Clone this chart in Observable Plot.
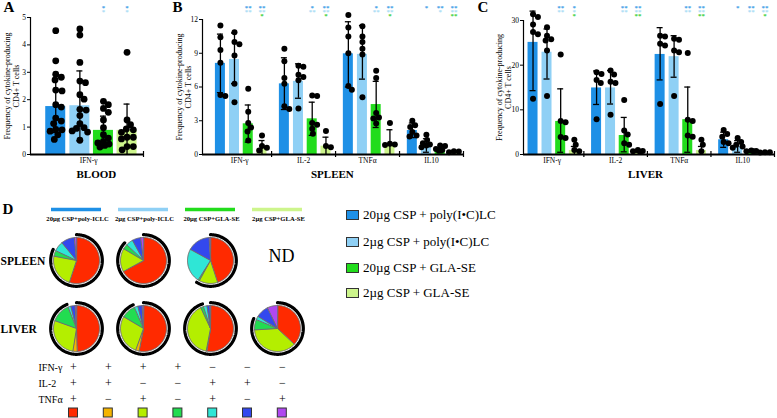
<!DOCTYPE html>
<html><head><meta charset="utf-8">
<script src="https://cdn.jsdelivr.net/npm/d3@7"></script>
<script src="https://cdn.jsdelivr.net/npm/@observablehq/plot@0.6"></script>
<style>
body{margin:0;background:#fff;}
#fig{position:relative;width:777px;height:418px;overflow:hidden;font-family:"Liberation Serif",serif;background:#fff;}
#fig svg{position:absolute;overflow:visible;}
.li{position:absolute;left:346px;white-space:nowrap;display:flex;align-items:center;font-size:13px;color:#000;}
.sw{width:13px;height:10px;border:1px solid #333;margin-right:4px;box-sizing:border-box;}
</style></head><body><div id="fig"></div>
<script>
// ---------- data ----------
const groups = ["20µg CSP + poly(I•C)LC","2µg CSP + poly(I•C)LC","20µg CSP + GLA-SE","2µg CSP + GLA-SE"];
const groupShort = ["20µg CSP+poly-ICLC","2µg CSP+poly-ICLC","20µg CSP+GLA-SE","2µg CSP+GLA-SE"];
const groupColors = ["#1e90e6","#8fd0f5","#22dc1c","#cdf58c"];
const cytokinesBlood = ["IFN-γ"];
const cytokinesTissue = ["IFN-γ","IL-2","TNFα","IL10"];
const yTicksBlood = [0,1,2,3,4,5];
const yTicksSpleen = [0,3,6,9,12];
const yTicksLiver = [0,10,20,30];
const yLabel = "Frequency of cytokine-producing\nCD4+ T cells";
const starColors = ["#3b9de6","#a8dcf5","#3ccf3c"];

// [cytokine][group]
const bloodMean = [[1.75,1.78,0.88,0.88]];
const bloodLo = [[0.8,0.5,0.35,0]];
const bloodHi = [[2.75,3.05,1.4,1.84]];
const bloodPoints = [[
  [4.52,3.42,2.93,2.82,2.72,2.35,2.32,1.82,1.73,1.33,1.22,1.13,0.92,0.9,0.85,0.72,0.55],
  [4.58,4.36,3.36,2.68,2.62,2.18,2.02,1.65,1.62,1.42,1.13,0.98,0.95,0.86,0.82,0.52],
  [1.94,1.82,1.68,1.54,1.26,0.98,0.72,0.6,0.48,0.42,0.38,0.33,0.27],
  [3.73,1.26,1.09,0.93,0.9,0.81,0.63,0.63,0.57,0.29,0.29,0.17]
]];
const bloodStars = [[0,2,"*","*",""],[0,3,"*","*",""]];

const spleenMean = [[8.1,8.45,2.73,0.5],[6.28,6.5,3.17,0.74],[8.95,8.9,4.44,1.0],[2.13,0.8,0.36,0.2]];
const spleenLo = [[5.5,6.3,1.1,0],[4.0,5.0,1.7,0],[6.0,6.7,2.4,0],[1.5,0.2,0.15,0.15]];
const spleenHi = [[10.7,10.8,4.4,1.24],[8.6,8.06,4.65,1.54],[11.8,11.47,6.5,2.2],[2.8,1.4,0.55,0.25]];
const spleenPoints = [
  [[11.47,10.43,9.3,8.15,5.3,5.19],[10.87,10.0,9.8,8.8,6.3,4.65],[5.84,3.8,2.8,2.4,2.05,1.24],[1.7,0.75,0.6,0.35]],
  [[9.4,8.3,6.8,6.3,4.3,4.05],[7.9,7.8,7.1,6.9,6.6,4.1],[5.25,5.2,2.8,2.65,2.3,1.85],[2.1,0.75,0.65]],
  [[12.4,11.3,10.5,9.0,6.1,5.75],[11.4,10.5,10.0,9.4,8.9,5.1],[7.45,6.8,3.7,3.3,3.2,2.75],[2.8,0.95,0.9,0.85]],
  [[3.0,2.6,2.45,2.0,1.7,1.6],[1.75,1.3,1.0,0.9,0.8,0.65],[0.8,0.75,0.5,0.4,0.35],[0.3,0.27,0.2]]
];
const spleenStars = [[0,2,"**","**",""],[0,3,"**","**","*"],[1,2,"*","**",""],[1,3,"**","**","*"],[2,2,"*","**",""],[2,3,"**","**","*"],[3,1,"*","",""],[3,2,"**","*",""],[3,3,"**","**","**"]];

const liverMean = [[25.1,22.9,7.4,0.9],[14.9,14.9,4.25,0.75],[22.4,21.9,7.8,0.9],[3.3,1.8,0.75,0.5]];
const liverLo = [[14.3,16.9,0.5,0],[11.2,11.3,0.6,0.5],[16.7,17.3,0.5,0],[1.6,0.5,0.5,0.4]];
const liverHi = [[32.1,28.1,14.7,1.8],[18.7,18.8,8.3,1.0],[28.4,26.6,15.1,1.8],[5.0,3.1,1.0,0.6]];
const liverPoints = [
  [[31.4,30.8,29.1,27.4,26.9,12.5],[28.5,26.6,25.8,25.5,23.3,13.1],[22.4,7.5,7.2,3.9,3.7],[3.3,2.2,1.0,0.7]],
  [[18.4,18.0,16.7,16.0,7.9],[18.8,17.9,16.3,16.0,8.9],[12.2,5.4,4.5,2.5,2.2],[1.0,0.8,0.7,0.6]],
  [[26.6,26.4,24.8,24.4,11.3],[25.9,25.7,23.3,22.9,13.1],[22.7,7.8,7.5,4.25,4.0],[3.3,2.2,0.7]],
  [[5.5,4.6,4.0,2.8,2.5],[3.7,2.8,2.2,1.8,1.5],[0.9,0.8,0.75,0.7],[0.5,0.5,0.45]]
];
const liverStars = [[0,2,"**","**",""],[0,3,"*","*","*"],[1,2,"**","**",""],[1,3,"**","**","**"],[2,2,"**","**",""],[2,3,"**","**","**"],[3,1,"*","",""],[3,2,"**","**",""],[3,3,"**","**","*"]];

// Panel D: polyfunctional profiles (% of responding cells)
const cytoRows = ["IFN-γ","IL-2","TNFα"];
const signIFN = ["+","+","+","+","−","−","−"];
const signIL2 = ["+","+","−","−","+","+","−"];
const signTNF = ["+","−","+","−","+","−","+"];
const catColors = ["#ff2a00","#f5b400","#b4ee00","#22dc50","#2fe6d6","#3348ee","#b048f0"];
const tissues = ["SPLEEN","LIVER"];
const spleenPie = [[55,0,23,4,7,9.5,1.5],[67,0,16.5,3.5,5,6,2],[45,0,13,1,24,16,1],null];
const liverPie = [[49.5,3,28,13.5,2,3,1],[53,2.5,28,10,2.5,3,1],[52.5,0.5,40,2,2.5,2,0.5],[37,0,37,7.3,2.5,9,7.2]];
const notDone = "ND";

// ---------- helpers ----------
const fig = document.getElementById("fig");
const inCluster = [0.2, 0.42, 0.635, 0.85];

function swarm(vals, pxY, r, maxPx) {
  const n = vals.length, out = new Array(n).fill(0);
  const order = d3.range(n).sort((a,b)=>vals[b]-vals[a]);
  const placed = [];
  const cands = [0];
  for (let k=1;k<=20;k++){ const s=k*0.7; if (s<=maxPx) cands.push(s,-s); }
  for (const i of order) {
    const y = vals[i]*pxY;
    let best = 0, bestD = -1;
    for (const c of cands) {
      let dmin = Infinity;
      for (const p of placed) dmin = Math.min(dmin, Math.hypot(p[0]-c, p[1]-y));
      if (dmin >= 1.7*r) { best = c; break; }
      if (dmin > bestD) { bestD = dmin; best = c; }
    }
    placed.push([best, y]); out[i] = best;
  }
  return out;
}

function barPanel(o) {
  const plotH = o.height - o.mt - o.mb;
  const plotW = o.width - o.ml - o.mr;
  const nC = o.cyto.length;
  const pxX = plotW / (nC - o.xStart);
  const pxY = plotH / o.yMax;
  const bars = [], pts = [];
  o.mean.forEach((row, c) => row.forEach((m, g) => {
    const x = c + inCluster[g];
    bars.push({c, g, x, mean: m, lo: o.lo[c][g], hi: o.hi[c][g]});
    const vals = o.pts[c][g];
    const offs = swarm(vals, pxY, o.r, o.maxOff);
    vals.forEach((v, i) => pts.push({x: x + offs[i]/pxX, v}));
  }));
  const bw = o.barW / pxX, cw = 3 / pxX;
  const starRows = [2.5, 6.5, 10.8];
  const marks = [
    Plot.rect(bars, {x1: d=>d.x-bw/2, x2: d=>d.x+bw/2, y1: 0, y2: "mean", fill: d=>groupColors[d.g]}),
    Plot.ruleX(bars, {x: "x", y1: "lo", y2: "hi", stroke: "black", strokeWidth: 1.3}),
    Plot.ruleY(bars, {y: "hi", x1: d=>d.x-cw, x2: d=>d.x+cw, stroke: "black", strokeWidth: 1.3}),
    Plot.ruleY(bars.filter(d=>d.lo>0), {y: "lo", x1: d=>d.x-cw, x2: d=>d.x+cw, stroke: "black", strokeWidth: 1.3}),
    Plot.dot(pts, {x: "x", y: "v", r: o.r, fill: "black"}),
    Plot.ruleY([0], {stroke: "black", strokeWidth: 1.8}),
    Plot.ruleX([o.xStart], {stroke: "black", strokeWidth: 1.2}),
    Plot.ruleX(d3.range(1, nC+1), {x: d=>d, stroke: "black", strokeWidth: 1.2, insetTop: plotH-3, insetBottom: -3}),
    Plot.text(o.cyto, {x: (d,i)=>i+0.5, frameAnchor: "bottom", lineAnchor: "top", dy: 3, text: d=>d, fontSize: 7.5}),
    Plot.text([o.title], {x: ()=>o.titleX, frameAnchor: "bottom", dy: 23, text: d=>d, fontSize: 11, fontWeight: "bold"}),
    Plot.text([yLabel], {frameAnchor: "left", textAnchor: "middle", lineAnchor: "middle", dx: o.labelDx, rotate: -90, text: d=>d, fontSize: 8, lineHeight: 1.2}),
    Plot.text([o.letter], {frameAnchor: "top-left", textAnchor: "start", lineAnchor: "top", dx: o.letterX - o.ml, dy: 1 - o.mt, text: d=>d, fontSize: 15, fontWeight: "bold"})
  ];
  for (let k=0;k<3;k++) {
    marks.push(Plot.text(o.stars.filter(s=>s[2+k]), {x: s=>s[0]+inCluster[s[1]], frameAnchor: "top", text: s=>s[2+k],
      dy: starRows[k] - o.mt + 1.6, fill: starColors[k], fontSize: 7, fontWeight: "bold"}));
  }
  const svg = Plot.plot({
    width: o.width, height: o.height,
    marginLeft: o.ml, marginRight: o.mr, marginTop: o.mt, marginBottom: o.mb,
    style: {fontFamily: "Liberation Serif", fontSize: "7.5px", color: "black", background: "transparent", overflow: "visible"},
    x: {domain: [o.xStart, nC], axis: null},
    y: {domain: [0, o.yMax], ticks: o.yTicks, tickSize: 3, tickPadding: 1.5, label: null, tickFormat: d=>String(d)},
    color: {type: "identity"},
    marks
  });
  svg.style.left = o.left + "px"; svg.style.top = "0px";
  fig.appendChild(svg);
}

barPanel({left: 0, width: 150, height: 190, ml: 30, mr: 7, mt: 17, mb: 36, xStart: -0.03,
  cyto: cytokinesBlood, mean: bloodMean, lo: bloodLo, hi: bloodHi, pts: bloodPoints, stars: bloodStars,
  yMax: 5, yTicks: yTicksBlood, barW: 20, r: 3.4, maxOff: 8, title: "BLOOD", titleX: 0.57, letter: "A", letterX: 3, labelDx: -19});
barPanel({left: 160, width: 310, height: 190, ml: 42, mr: 7, mt: 19, mb: 36, xStart: -0.08,
  cyto: cytokinesTissue, mean: spleenMean, lo: spleenLo, hi: spleenHi, pts: spleenPoints, stars: spleenStars,
  yMax: 12, yTicks: yTicksSpleen, barW: 10, r: 3, maxOff: 5, title: "SPLEEN", titleX: 1.95, letter: "B", letterX: 12, labelDx: -19});
barPanel({left: 470, width: 307, height: 190, ml: 53, mr: 3, mt: 20, mb: 36, xStart: 0.05,
  cyto: cytokinesTissue, mean: liverMean, lo: liverLo, hi: liverHi, pts: liverPoints, stars: liverStars,
  yMax: 30, yTicks: yTicksLiver, barW: 10, r: 3, maxOff: 5, title: "LIVER", titleX: 1.97, letter: "C", letterX: 7, labelDx: -20});

// ---------- Panel D ----------
(function(){
  const pieX = i => 76 + i*67;
  const pieY = t => 260 + t*68;
  const R = 23, AR = 25.8;
  const colX = j => 73 + j*34.8;
  const rowY = k => 367 + k*16;
  const marks = [];
  const hdr = groupColors.map((c,i)=>({i,c,label: groupShort[i]}));
  marks.push(Plot.ruleY(hdr, {y: ()=>209, x1: d=>pieX(d.i)-25, x2: d=>pieX(d.i)+25, stroke: d=>d.c, strokeWidth: 3.5}));
  marks.push(Plot.text(hdr, {x: d=>pieX(d.i)+1, y: ()=>218.5, text: "label", fontSize: 6.6, fontWeight: "bold"}));
  marks.push(Plot.text(["D"], {x: ()=>2, y: ()=>209, text: d=>d, textAnchor: "start", fontSize: 15, fontWeight: "bold"}));
  marks.push(Plot.text(tissues, {x: ()=>0, y: (d,i)=>pieY(i)+1, text: d=>d, textAnchor: "start", fontSize: 11.5, fontWeight: "bold"}));
  [spleenPie, liverPie].forEach((row, t) => row.forEach((vals, i) => {
    const cx = pieX(i), cy = pieY(t);
    if (!vals) {
      marks.push(Plot.text([notDone], {x: ()=>cx+4, y: ()=>cy-4, text: d=>d, fontSize: 18}));
      return;
    }
    const tot = d3.sum(vals);
    let a0 = 0;
    vals.forEach((v, k) => {
      if (v <= 0) return;
      const a1 = a0 + v/tot*2*Math.PI;
      const p = [{x: cx, y: cy}];
      const n = Math.max(2, Math.ceil((a1-a0)/0.03));
      for (let s=0;s<=n;s++){ const a = a0 + (a1-a0)*s/n; p.push({x: cx + R*Math.sin(a), y: cy - R*Math.cos(a)}); }
      marks.push(Plot.line(p, {x: "x", y: "y", fill: catColors[k], stroke: "#6e6e6e", strokeWidth: 1, curve: "linear-closed"}));
      a0 = a1;
    });
    const ifn = d3.sum(vals.filter((v,k)=>signIFN[k]==="+"))/tot*2*Math.PI;
    const arc = [];
    const n = Math.ceil(ifn/0.03);
    for (let s=0;s<=n;s++){ const a = ifn*s/n; arc.push({x: cx + AR*Math.sin(a), y: cy - AR*Math.cos(a)}); }
    marks.push(Plot.line(arc, {x: "x", y: "y", stroke: "black", strokeWidth: 3.2}));
  }));
  marks.push(Plot.text(cytoRows, {x: ()=>38, y: (d,i)=>rowY(i), text: d=>d, textAnchor: "start", fontSize: 10}));
  [signIFN, signIL2, signTNF].forEach((signs, k) => {
    marks.push(Plot.text(signs, {x: (d,j)=>colX(j), y: ()=>rowY(k), text: d=>d, fontSize: 12}));
  });
  marks.push(Plot.rect(catColors, {x1: (d,j)=>colX(j)-4.5, x2: (d,j)=>colX(j)+4.5, y1: ()=>408, y2: ()=>417, fill: d=>d, stroke: "#333", strokeWidth: 1}));
  const svg = Plot.plot({
    width: 335, height: 228, margin: 0,
    style: {fontFamily: "Liberation Serif", color: "black", background: "transparent", overflow: "visible"},
    x: {domain: [0, 335], range: [0, 335], axis: null},
    y: {domain: [190, 418], range: [0, 228], axis: null},
    color: {type: "identity"},
    marks
  });
  svg.style.left = "0px"; svg.style.top = "190px";
  fig.appendChild(svg);
})();

// ---------- legend (HTML) ----------
[215, 242, 268, 293].forEach((cy, i) => {
  const d = document.createElement("div");
  d.className = "li"; d.style.top = (cy - 8) + "px";
  d.innerHTML = `<span class="sw" style="background:${groupColors[i]}"></span><span>${groups[i]}</span>`;
  fig.appendChild(d);
});
</script></body></html>
